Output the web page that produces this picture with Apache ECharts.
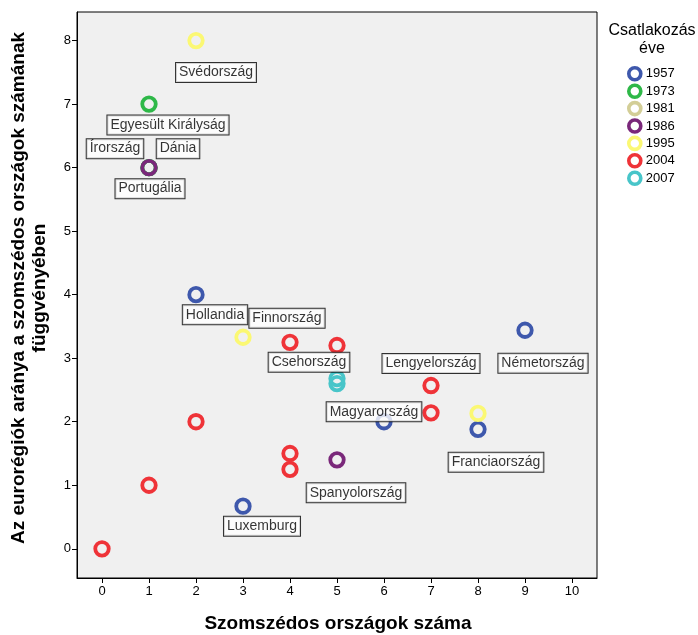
<!DOCTYPE html>
<html>
<head>
<meta charset="utf-8">
<script src="https://cdn.jsdelivr.net/npm/echarts@6/dist/echarts.min.js"></script>
<style>
html,body{margin:0;padding:0;background:#fff;}
#chart{width:698px;height:635px;}
</style>
</head>
<body>
<div id="chart"></div>
<script>
// ---- data ----
const years = ['1957', '1973', '1981', '1986', '1995', '2004', '2007'];
const neighbors = [0, 1, 2, 2, 1, 1, 1, 1, 2, 3, 3, 4, 4, 4, 5, 5, 5, 5, 6, 7, 7, 8, 8, 9];
const ratios    = [0, 1, 2, 8, 7, 6, 6, 6, 4, 3.33, 0.67, 3.25, 1.5, 1.25, 3.2, 2.68, 2.6, 1.4, 2.0, 2.57, 2.14, 2.13, 1.88, 3.44];
const joinYear  = ['2004','2004','2004','1995','1973','1973','1973','1986','1957','1995','1957','2004','2004','2004','2004','2007','2007','1986','1957','2004','2004','1995','1957','1957'];
const names     = ['','','','Svédország','Egyesült Királyság','Írország','Dánia','Portugália','Hollandia','Finnország','Luxemburg','Csehország','','','','','','Spanyolország','','Lengyelország','Magyarország','','Franciaország','Németország'];
const xTicks = [0,1,2,3,4,5,6,7,8,9,10];
const yTicks = [0,1,2,3,4,5,6,7,8];

// ---- styling ----
const yearColors = {
  '1957': '#3e58ac', '1973': '#2eb848', '1981': '#d3ce97', '1986': '#7a287a',
  '1995': '#fbf873', '2004': '#ef3338', '2007': '#48c5c9'
};
const labelOffsets = {
  'Svédország': [20, 32], 'Egyesült Királyság': [19, 21], 'Írország': [-34, -19],
  'Dánia': [29, -19], 'Portugália': [1, 21], 'Hollandia': [19, 20],
  'Finnország': [44, -19], 'Csehország': [19, 20], 'Lengyelország': [0, -22],
  'Németország': [18, 33], 'Magyarország': [-57, -1], 'Franciaország': [18, 33],
  'Spanyolország': [19, 33], 'Luxemburg': [19, 20]
};
const FONT = 'Arial, "Liberation Sans", sans-serif';

const pointSeries = years.map(function (yr) {
  const data = [];
  for (let i = 0; i < neighbors.length; i++) {
    if (joinYear[i] === yr) data.push([neighbors[i], ratios[i]]);
  }
  return {
    name: yr,
    type: 'scatter',
    symbol: 'circle',
    symbolSize: 13.5,
    z: 2,
    itemStyle: { color: 'rgba(0,0,0,0)', borderColor: yearColors[yr], borderWidth: 3.8, opacity: 1 },
    emphasis: { disabled: true },
    data: data
  };
});

const labelData = [];
for (let i = 0; i < neighbors.length; i++) {
  if (!names[i]) continue;
  labelData.push({
    value: [neighbors[i], ratios[i]],
    label: { offset: labelOffsets[names[i]] || [0, 0], formatter: names[i] }
  });
}
const labelSeries = {
  name: 'labels',
  type: 'scatter',
  symbolSize: 1,
  z: 10,
  silent: true,
  itemStyle: { color: 'rgba(0,0,0,0)' },
  label: {
    show: true,
    position: 'inside',
    fontFamily: FONT,
    fontSize: 14,
    color: '#000',
    backgroundColor: '#fff',
    borderColor: '#000',
    borderWidth: 1,
    padding: [3, 3, 2, 3]
  },
  data: labelData
};

const chart = echarts.init(document.getElementById('chart'));
chart.setOption({
  animation: false,
  backgroundColor: '#fff',
  grid: {
    left: 77, top: 12, width: 520, height: 566,
    show: true, backgroundColor: '#f0f0f0', borderColor: '#000', borderWidth: 1
  },
  legend: {
    data: years,
    orient: 'vertical',
    left: 627,
    top: 66,
    itemWidth: 12,
    itemHeight: 12,
    itemGap: 1.8,
    padding: 0,
    icon: 'circle',
    itemStyle: { color: 'rgba(0,0,0,0)', borderWidth: 3.6 },
    textStyle: { fontFamily: FONT, fontSize: 13, color: '#000', padding: [0, 0, 0, 0] }
  },
  xAxis: {
    type: 'value',
    min: -0.532, max: 10.532,
    axisLine: { show: true, onZero: false, lineStyle: { color: '#000' } },
    axisTick: { show: true, customValues: xTicks, length: 5, lineStyle: { color: '#000' } },
    axisLabel: { customValues: xTicks, fontFamily: FONT, fontSize: 13, color: '#000', margin: 7 },
    splitLine: { show: false }
  },
  yAxis: {
    type: 'value',
    min: -0.46, max: 8.45,
    axisLine: { show: true, onZero: false, lineStyle: { color: '#000' } },
    axisTick: { show: true, customValues: yTicks, length: 5, lineStyle: { color: '#000' } },
    axisLabel: { customValues: yTicks, fontFamily: FONT, fontSize: 13, color: '#000', margin: 6 },
    splitLine: { show: false }
  },
  graphic: [
    {
      type: 'text',
      position: [338, 624],
      style: {
        text: 'Szomszédos országok száma',
        font: 'bold 19px ' + FONT, fill: '#000', align: 'center', verticalAlign: 'middle'
      }
    },
    {
      type: 'text',
      position: [29, 288],
      rotation: Math.PI / 2,
      style: {
        text: 'Az eurorégiók aránya a szomszédos országok számának\nfüggvényében',
        font: 'bold 19px ' + FONT, fill: '#000', align: 'center', verticalAlign: 'middle',
        lineHeight: 21
      }
    },
    {
      type: 'text',
      position: [652, 40],
      style: {
        text: 'Csatlakozás\néve',
        font: '16px ' + FONT, fill: '#000', align: 'center', verticalAlign: 'middle',
        lineHeight: 18
      }
    }
  ],
  series: pointSeries.concat([labelSeries])
});
</script>
</body>
</html>
